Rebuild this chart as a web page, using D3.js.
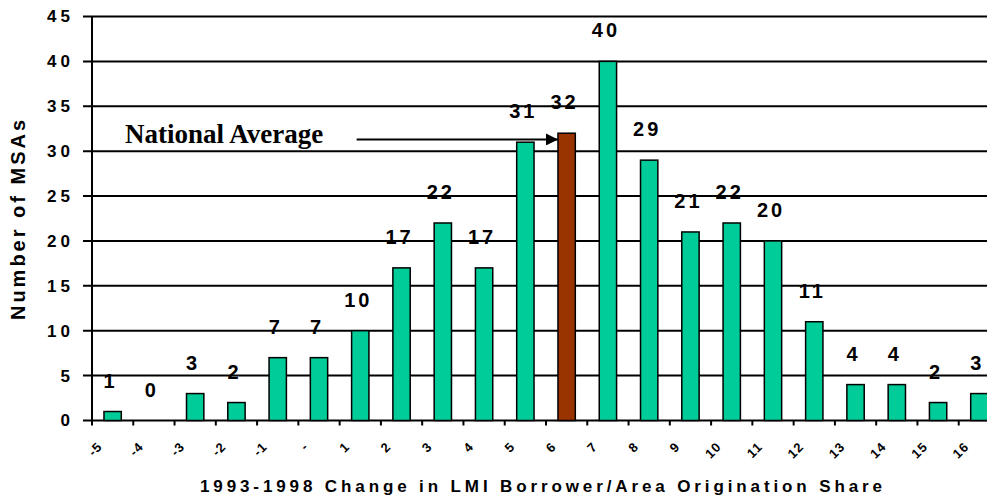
<!DOCTYPE html>
<html>
<head>
<meta charset="utf-8">
<script src="https://cdn.jsdelivr.net/npm/d3@7"></script>
<style>
  body { margin: 0; background: #fff; }
  text { font-family: "Liberation Sans", Arial, sans-serif; font-weight: bold; fill: #000; }
</style>
</head>
<body>
<div id="chart"></div>
<script>
const categories = ["-5", "-4", "-3", "-2", "-1", "-", "1", "2", "3", "4", "5", "6", "7", "8",
                    "9", "10", "11", "12", "13", "14", "15", "16"];
const counts = [1, 0, 3, 2, 7, 7, 10, 17, 22, 17, 31, 32, 40, 29, 21, 22, 20, 11, 4, 4, 2, 3];
const yTicks = [0, 5, 10, 15, 20, 25, 30, 35, 40, 45];
const highlight = "6";
const nationalAverage = 31.3;

const width = 987, height = 500;
const margin = {top: 16.5, left: 92};
const plotRight = 1000, plotBottom = 420.5;

const svg = d3.select("#chart").append("svg")
  .attr("width", width)
  .attr("height", height);

const x = d3.scaleBand()
  .domain(categories)
  .range([margin.left, plotRight])
  .padding(0);

const y = d3.scaleLinear()
  .domain([0, 45])
  .range([plotBottom, margin.top]);

const band = x.bandwidth();
const barW = band * 0.42;

// gridlines
svg.append("g")
  .selectAll("line")
  .data(yTicks)
  .enter().append("line")
  .attr("x1", margin.left - 9)
  .attr("x2", plotRight)
  .attr("y1", d => y(d))
  .attr("y2", d => y(d))
  .attr("stroke", "#000")
  .attr("stroke-width", 2);

// y axis
const yAxis = d3.axisLeft(y).tickValues(yTicks).tickSize(0).tickPadding(22);
const gY = svg.append("g")
  .attr("transform", `translate(${margin.left},0)`)
  .call(yAxis);
gY.select(".domain").remove();
gY.selectAll("text")
  .style("font-size", "17px")
  .style("letter-spacing", "4px")
  .attr("dx", "4px");

svg.append("line")
  .attr("x1", margin.left).attr("x2", margin.left)
  .attr("y1", y(45)).attr("y2", plotBottom + 4)
  .attr("stroke", "#000").attr("stroke-width", 2);

// x ticks at band boundaries
svg.append("g")
  .selectAll("line")
  .data(categories)
  .enter().append("line")
  .attr("x1", d => x(d)).attr("x2", d => x(d))
  .attr("y1", plotBottom).attr("y2", plotBottom + 5)
  .attr("stroke", "#000").attr("stroke-width", 2);

svg.append("g")
  .selectAll("text")
  .data(categories)
  .enter().append("text")
  .attr("transform", d => `translate(${x(d) + 11},${plotBottom + 27}) rotate(-45)`)
  .attr("text-anchor", "end")
  .style("font-size", "13px")
  .style("letter-spacing", "1px")
  .text(d => d);

// bars
svg.append("g")
  .selectAll("rect")
  .data(categories)
  .enter().append("rect")
  .attr("x", d => x(d) + (band - barW) / 2)
  .attr("width", barW)
  .attr("y", (d, i) => y(counts[i]))
  .attr("height", (d, i) => plotBottom - y(counts[i]))
  .attr("fill", d => d === highlight ? "#993300" : "#00CC99")
  .attr("stroke", "#000")
  .attr("stroke-width", 1.5);

// value labels
svg.append("g")
  .selectAll("text")
  .data(categories)
  .enter().append("text")
  .attr("x", d => x(d) + band / 2 - 2)
  .attr("y", (d, i) => y(counts[i]) - 24)
  .attr("text-anchor", "middle")
  .style("font-size", "20px")
  .style("letter-spacing", "3px")
  .text((d, i) => counts[i]);

// national average annotation
svg.append("defs").append("marker")
  .attr("id", "arrow")
  .attr("viewBox", "0 0 10 10")
  .attr("refX", 10).attr("refY", 5)
  .attr("markerWidth", 6).attr("markerHeight", 6)
  .attr("markerUnits", "strokeWidth")
  .attr("orient", "auto")
  .append("path")
  .attr("d", "M0,0L10,5L0,10z")
  .attr("fill", "#000");

svg.append("line")
  .attr("x1", x("1") + 17)
  .attr("x2", x(highlight) + (band - barW) / 2)
  .attr("y1", y(nationalAverage))
  .attr("y2", y(nationalAverage))
  .attr("stroke", "#000")
  .attr("stroke-width", 2)
  .attr("marker-end", "url(#arrow)");

svg.append("text")
  .attr("x", 125)
  .attr("y", 143)
  .style("font-family", "'Liberation Serif', 'Times New Roman', serif")
  .style("font-size", "27px")
  .text("National Average");

// axis titles
svg.append("text")
  .attr("transform", `translate(25,${(margin.top + plotBottom) / 2}) rotate(-90)`)
  .attr("text-anchor", "middle")
  .style("font-size", "20px")
  .style("letter-spacing", "3px")
  .text("Number of MSAs");

svg.append("text")
  .attr("x", 200)
  .attr("y", 492)
  .attr("textLength", 682)
  .attr("lengthAdjust", "spacing")
  .style("font-size", "17px")
  .text("1993-1998 Change in LMI Borrower/Area Origination Share");
</script>
</body>
</html>
